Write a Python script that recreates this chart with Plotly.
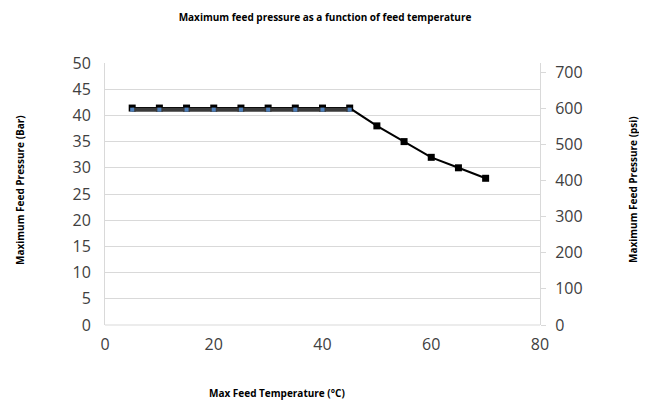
import plotly.graph_objects as go

temp_c = [5, 10, 15, 20, 25, 30, 35, 40, 45, 50, 55, 60, 65, 70]
pressure_bar = [41.4, 41.4, 41.4, 41.4, 41.4, 41.4, 41.4, 41.4, 41.4, 38, 35, 32, 30, 28]
temp_psi = [5, 10, 15, 20, 25, 30, 35, 40, 45]
pressure_psi = [596, 596, 596, 596, 596, 596, 596, 596, 596]

BAR_TO_PSI = 14.5038
font = "Open Sans"

# page body has an 8px default margin; figure is sized to fit inside the window
W, H = 647 - 8, 402 - 8
PW, PH = 435, 262
L, T = 105 - 8, 63 - 8
R, B = W - L - PW, H - T - PH

def px(x):
    return (x - 8 - L) / PW

def py(y):
    return (325 - y) / PH

fig = go.Figure()
fig.add_trace(go.Scatter(
    x=temp_psi, y=pressure_psi, yaxis="y2", mode="lines+markers",
    line=dict(color="#3a3a3a", width=4),
    marker=dict(symbol="square", size=4, color="#4f81bd"),
    showlegend=False, hoverinfo="skip"))
fig.add_trace(go.Scatter(
    x=temp_c, y=pressure_bar, mode="lines+markers",
    line=dict(color="black", width=2),
    marker=dict(symbol="square", size=7, color="black"),
    showlegend=False))

fig.update_layout(
    width=W, height=H,
    margin=dict(l=L, r=R, t=T, b=B),
    paper_bgcolor="white", plot_bgcolor="white",
    font=dict(family=font, color="#404040"),
    title=dict(text="<b>Maximum feed pressure as a function of feed temperature</b>",
               x=px(325), xref="paper", xanchor="center", y=1 - (17 - 8) / H, yanchor="middle",
               font=dict(size=10, color="black", family=font)),
    xaxis=dict(range=[0, 80], tickvals=[0, 20, 40, 60, 80], showgrid=False,
               zeroline=False, showline=False, ticks="",
               tickfont=dict(size=16, color="#404040"), ticklabelstandoff=8),
    yaxis=dict(range=[0, 50], tickvals=list(range(0, 55, 5)), showgrid=True,
               gridcolor="#d9d9d9", gridwidth=1, zeroline=False,
               showline=True, linecolor="#d9d9d9", linewidth=1, ticks="",
               tickfont=dict(size=16, color="#404040"), ticklabelstandoff=10),
    yaxis2=dict(range=[0, 50 * BAR_TO_PSI], tickvals=list(range(0, 800, 100)),
                overlaying="y", side="right", showgrid=False, zeroline=False,
                showline=True, linecolor="#d9d9d9", linewidth=1,
                ticks="outside", ticklen=5, tickcolor="#d9d9d9",
                tickfont=dict(size=16, color="#404040"), ticklabelstandoff=6),
    shapes=[dict(type="line", xref="paper", yref="paper", x0=0, x1=1, y0=0, y1=0,
                 line=dict(color="#d9d9d9", width=1))],
    annotations=[
        dict(text="<b>Max Feed Temperature (°C)</b>", xref="paper", yref="paper",
             x=px(277), y=py(393), xanchor="center", yanchor="middle",
             showarrow=False, font=dict(size=10, color="black", family=font)),
        dict(text="<b>Maximum Feed Pressure (Bar)</b>", xref="paper", yref="paper",
             x=px(20), y=py(190), xanchor="center", yanchor="middle",
             textangle=-90, showarrow=False, font=dict(size=10, color="black", family=font)),
        dict(text="<b>Maximum Feed Pressure (psi)</b>", xref="paper", yref="paper",
             x=px(633), y=py(190), xanchor="center", yanchor="middle",
             textangle=-90, showarrow=False, font=dict(size=10, color="black", family=font)),
    ],
)

fig.write_html("out.html")
